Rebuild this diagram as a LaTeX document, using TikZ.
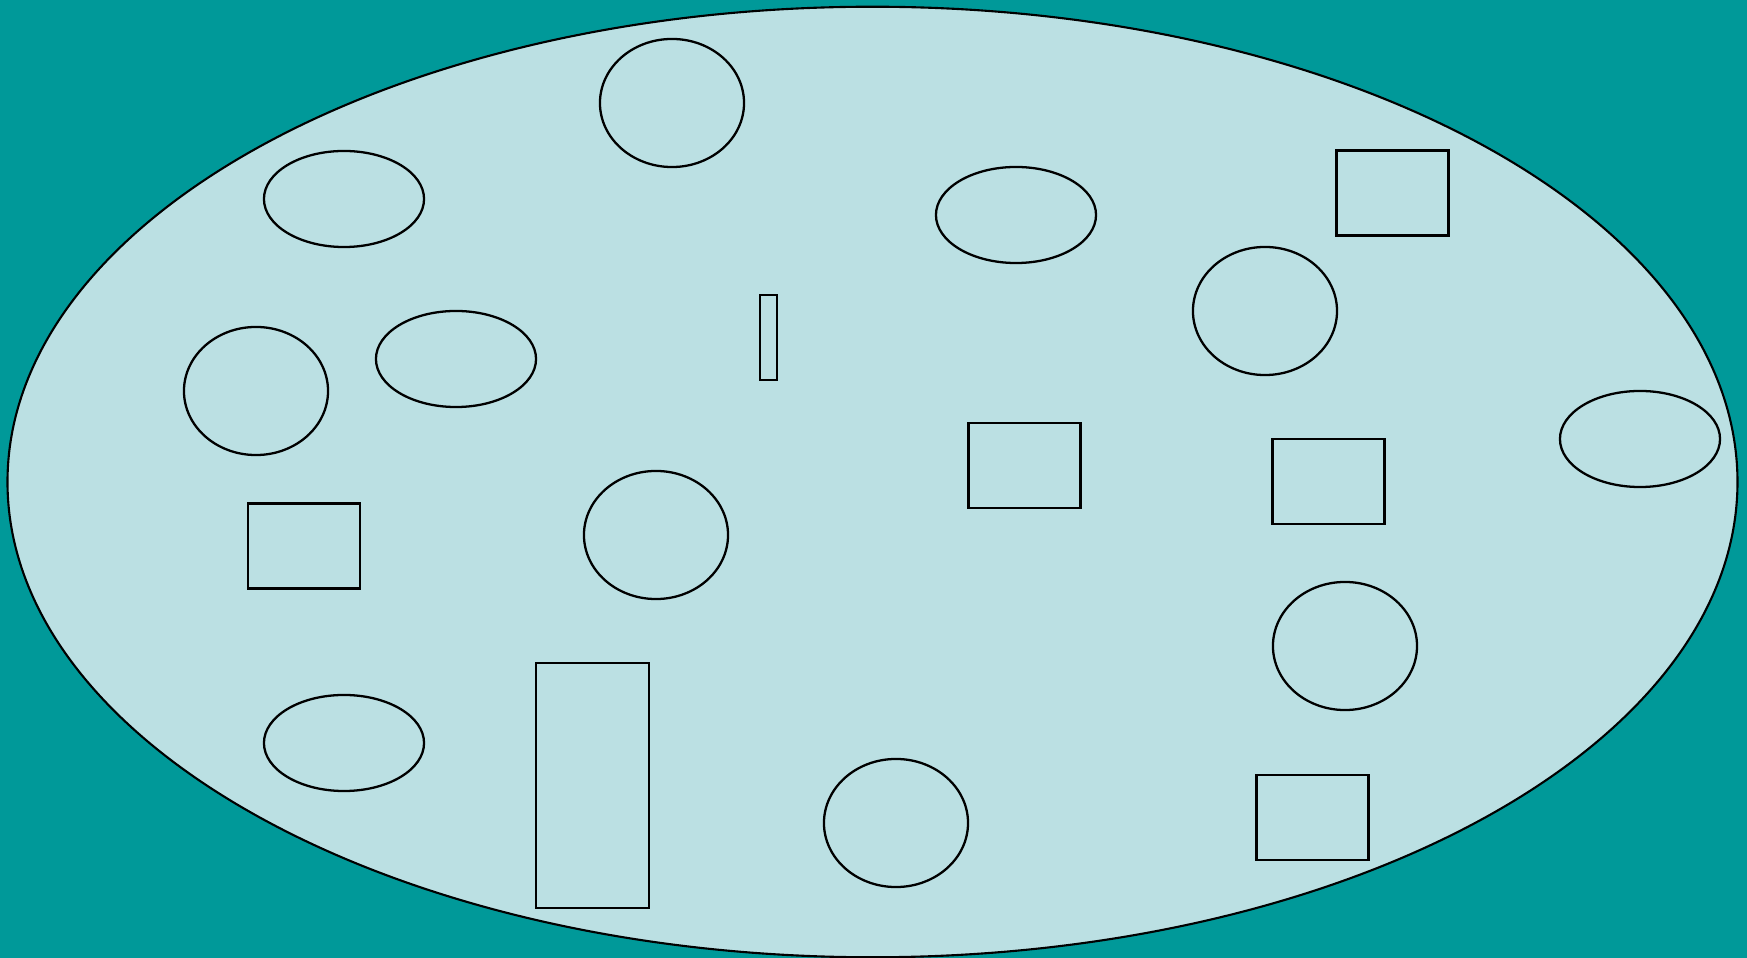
\documentclass[tikz,border=0pt]{standalone}
\usepackage{xcolor}
\usepackage{tikz}
\usetikzlibrary{positioning, shapes.geometric}
\definecolor{seateal}  {RGB}{0, 153, 153}
\definecolor{paleblue} {RGB}{187, 224, 227}
\tikzset{
  % Big outer region
  region/.style={
    ellipse, inner sep=0pt,
    minimum width=17.29cm, minimum height=9.50cm,
    fill=paleblue, draw=black, line width=0.6pt
  },
  % Round blob
  roundel/.style={
    ellipse, inner sep=0pt,
    minimum width=1.44cm, minimum height=1.28cm,
    draw=black, line width=0.65pt
  },
  % Flat blob
  flatel/.style={
    ellipse, inner sep=0pt,
    minimum width=1.60cm, minimum height=0.96cm,
    draw=black, line width=0.65pt
  },
  % Box
  box/.style={
    rectangle, inner sep=0pt,
    minimum width=1.12cm, minimum height=0.85cm,
    draw=black, line width=0.65pt
  },
}
\begin{document}
\begin{tikzpicture}[x=0.01cm, y=-0.01cm]
  \fill[seateal] (0,0) rectangle (1747,958);
  \useasboundingbox (0,0) rectangle (1747,958);
  \node[region] (world) at (872.5,482) {};
  % round blobs
  \node[roundel] (ra) at (672,103) {};
  \node[roundel] (rb) at (256,391) {};
  \node[roundel] (rc) at (656,535) {};
  \node[roundel] (rd) at (1265,311) {};
  \node[roundel] (re) at (1345,646) {};
  \node[roundel] (rf) at (896,823) {};
  % flat blobs
  \node[flatel] (fa) at (344,199) {};
  \node[flatel] (fb) at (456,359) {};
  \node[flatel] (fc) at (1016,215) {};
  \node[flatel] (fd) at (1640,439) {};
  \node[flatel] (fe) at (344,743) {};
  % boxes
  \node[box] (ba) at (1392.5,193) {};
  \node[box] (bb) at (1024.5,465.5) {};
  \node[box] (bc) at (1328.5,481.5) {};
  \node[box] (bd) at (304,546) {};
  \node[box] (be) at (1312.5,817.5) {};
  \node[box, minimum width=1.13cm, minimum height=2.45cm] (tall) at (592.5,785.5) {};
  \node[box, minimum width=0.17cm, minimum height=0.85cm] (thin) at (768.5,337.5) {};
\end{tikzpicture}
\end{document}
